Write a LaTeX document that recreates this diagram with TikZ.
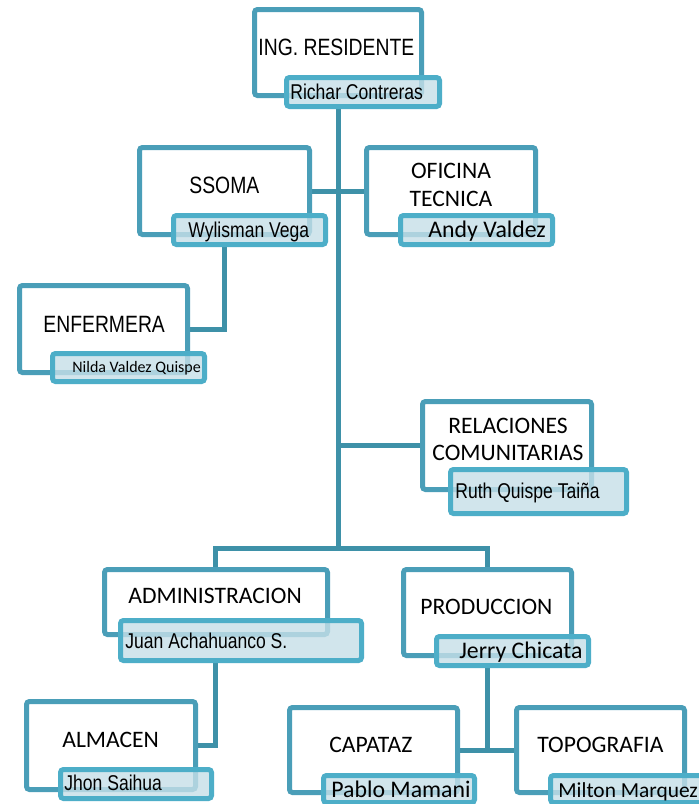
\documentclass[tikz,border=0pt]{standalone}
\usepackage{fontspec}
\newfontfamily\arialn[FakeStretch=0.82]{Liberation Sans}
\newfontfamily\calib{Carlito}
\usetikzlibrary{backgrounds}
\definecolor{boxcol}{HTML}{4A9EB8}
\definecolor{namecol}{HTML}{4DAEC8}
\definecolor{wirecol}{HTML}{3E91A8}
\definecolor{namefill}{HTML}{C6DFE8}

\begin{document}
\begin{tikzpicture}[x=0.5pt,y=-0.5pt,
  unit/.style={draw=boxcol,line width=2.5pt,rounded corners=1.5pt,fill=white,inner sep=0pt},
  who/.style={draw=namecol,line width=2.5pt,rounded corners=1.5pt,fill=namefill,fill opacity=.8,inner sep=0pt},
  wire/.style={draw=wirecol,line width=2.5pt},
  hda/.style={anchor=base west,inner sep=0pt,font=\arialn\fontsize{11.8}{13.5}\selectfont},
  nma/.style={anchor=base west,inner sep=0pt,font=\arialn\fontsize{10.7}{12}\selectfont},
  hdc/.style={anchor=base west,inner sep=0pt,font=\calib\fontsize{11.8}{13.5}\selectfont},
  nmc/.style={anchor=base west,inner sep=0pt,font=\calib\fontsize{11.9}{13.5}\selectfont}]
  \useasboundingbox (0,0) rectangle (699,804);

  \node[unit,minimum width=83.5pt,minimum height=43pt] (ing) at (338,52.5) {};
  \node[who,minimum width=76.5pt,minimum height=14.5pt] (ingN) at (363,92) {};
  \node[unit,minimum width=85pt,minimum height=43.5pt] (ssoma) at (224.5,191) {};
  \node[who,minimum width=76pt,minimum height=14.5pt] (ssomaN) at (249.5,230) {};
  \node[unit,minimum width=84.5pt,minimum height=43.5pt] (ofi) at (451,191) {};
  \node[who,minimum width=76pt,minimum height=14.5pt] (ofiN) at (476.5,230) {};
  \node[unit,minimum width=84pt,minimum height=43.5pt] (enf) at (103.5,329) {};
  \node[who,minimum width=76pt,minimum height=14pt] (enfN) at (128.5,367.5) {};
  \node[unit,minimum width=84.5pt,minimum height=44pt] (rel) at (507,445.5) {};
  \node[who,minimum width=88pt,minimum height=22pt] (relN) at (538.5,491.5) {};
  \node[unit,minimum width=111.5pt,minimum height=32.5pt] (adm) at (216,602) {};
  \node[who,minimum width=120.5pt,minimum height=20pt] (admN) at (241,640.5) {};
  \node[unit,minimum width=84pt,minimum height=43pt] (pro) at (487.5,612.5) {};
  \node[who,minimum width=76pt,minimum height=14.5pt] (proN) at (512.5,651) {};
  \node[unit,minimum width=84.5pt,minimum height=44pt] (alm) at (111,745.5) {};
  \node[who,minimum width=75.5pt,minimum height=14.5pt] (almN) at (136,784) {};
  \node[unit,minimum width=84pt,minimum height=42.5pt] (cap) at (373.5,750) {};
  \node[who,minimum width=75.5pt,minimum height=13.5pt] (capN) at (399,789) {};
  \node[unit,minimum width=84pt,minimum height=42.5pt] (topo) at (600.5,750) {};
  \node[who,minimum width=76pt,minimum height=13.5pt] (topoN) at (626.5,789) {};

  \node[hda] (ingT) at (258,55) {ING. RESIDENTE};
  \node[nma] (ingW) at (290,99) {Richar Contreras};
  \node[hda] (ssomaT) at (189,193) {SSOMA};
  \node[nma] (ssomaW) at (188,237) {Wylisman Vega};
  \node[hdc,anchor=base] (ofiT) at (451,178) {OFICINA};
  \node[hdc,anchor=base] (ofiU) at (451,206) {TECNICA};
  \node[nmc] (ofiW) at (428,237) {Andy Valdez};
  \node[hda] (enfT) at (43,332) {ENFERMERA};
  \node[nmc,font=\calib\fontsize{8}{9}\selectfont] (enfW) at (72,372) {Nilda Valdez Quispe};
  \node[hdc,anchor=base] (relT) at (508,433) {RELACIONES};
  \node[hdc,anchor=base] (relU) at (508,460) {COMUNITARIAS};
  \node[nma] (relW) at (455,498) {Ruth Quispe Taiña};
  \node[hdc] (admT) at (128,603) {ADMINISTRACION};
  \node[nma] (admW) at (125,648) {Juan Achahuanco S.};
  \node[hdc] (proT) at (420,614) {PRODUCCION};
  \node[nmc] (proW) at (459,658) {Jerry Chicata};
  \node[hdc] (almT) at (62,747) {ALMACEN};
  \node[nma] (almW) at (64,790) {Jhon Saihua};
  \node[hdc] (capT) at (329,752) {CAPATAZ};
  \node[nmc] (capW) at (331,797) {Pablo Mamani};
  \node[hdc] (topoT) at (537,752) {TOPOGRAFIA};
  \node[nmc,font=\calib\fontsize{10.7}{12}\selectfont] (topoW) at (558,797) {Milton Marquez};

  \begin{scope}[on background layer]
    \fill[white] (0,0) rectangle (699,804);
    \coordinate (bus) at (338,548);
    \coordinate (busL) at (215,548);
    \coordinate (busR) at (487,548);
    \coordinate (k1) at (224,329);
    \draw[wire] (ingN.south -| bus) -- (bus);
    \draw[wire] (ssoma.east) -- (ofi.west);
    \draw[wire] (ssomaN.south -| k1) |- (enf.east);
    \draw[wire] (bus |- rel.west) -- (rel.west);
    \draw[wire] (adm.north -| busL) -- (busL) -- (busR) -- (pro.north -| busR);
    \draw[wire] (admN.south -| busL) |- (alm.east);
    \draw[wire] (proN.south -| busR) -- (busR |- cap.east);
    \draw[wire] (cap.east) -- (topo.west);
  \end{scope}
\end{tikzpicture}
\end{document}
